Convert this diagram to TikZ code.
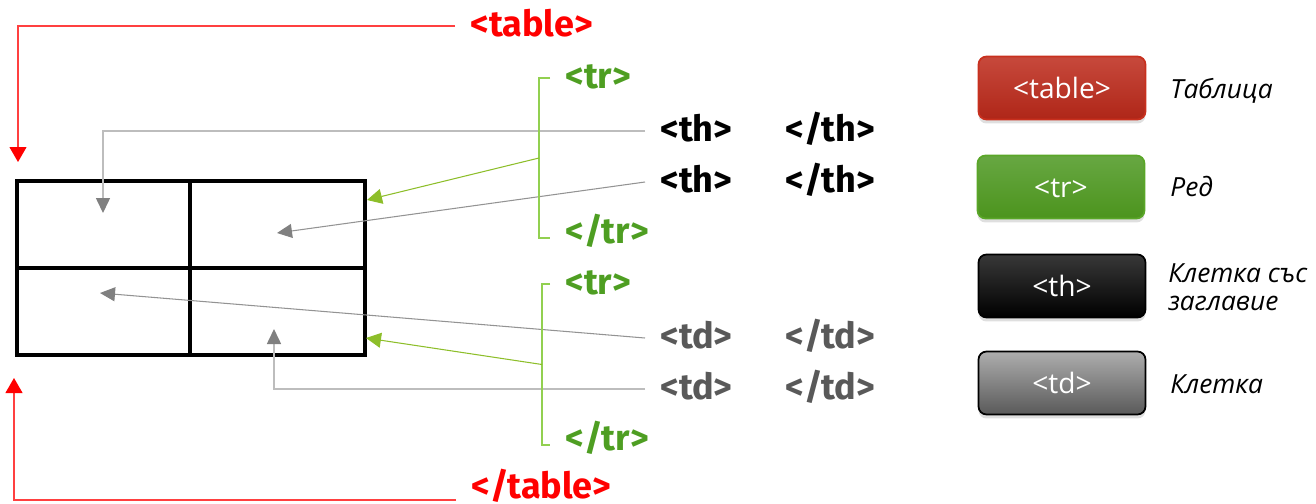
\documentclass[tikz,border=0pt]{standalone}
\usepackage{fontspec}
\newfontfamily\tagfont{Fira Sans}
\newfontfamily\boxfont{Open Sans}
\usetikzlibrary{arrows.meta}
\usetikzlibrary{shadows}

\definecolor{tagred}{HTML}{FF0000}
\definecolor{taggreen}{HTML}{4E9E22}
\definecolor{tdgray}{HTML}{595959}
\definecolor{bracketgreen}{HTML}{92D050}
\definecolor{arrowgreen}{HTML}{8DBE2A}
\definecolor{linegray}{HTML}{BDBDBD}
\definecolor{tipgray}{HTML}{808080}
\definecolor{redtop}{HTML}{C7493C}
\definecolor{redbot}{HTML}{AF2618}
\definecolor{redrim}{HTML}{C8301E}
\definecolor{greentop}{HTML}{67A742}
\definecolor{greenbot}{HTML}{4C941D}
\definecolor{greenrim}{HTML}{5AA628}

\begin{document}
\begin{tikzpicture}[x=0.02cm,y=-0.02cm,
    tag/.style={font=\tagfont\bfseries\fontsize{20.5}{24}\selectfont, anchor=base west,
      inner xsep=0.3cm, inner ysep=0pt, text height=0.4cm, text depth=0pt},
    keybox/.style={font=\boxfont\fontsize{16}{18}\selectfont, text=white, rounded corners=0.16cm,
      minimum width=3.34cm, minimum height=1.26cm, line width=1pt, text height=0.42cm, text depth=0pt,
      drop shadow={shadow xshift=0pt, shadow yshift=-0.08cm, opacity=0.25}},
    note/.style={font=\boxfont\itshape\fontsize{15}{16}\selectfont, inner sep=0pt},
    redline/.style={draw=tagred!75, line width=0.6pt, -{Triangle[length=0.3cm,width=0.34cm,color=tagred]}},
    grayline/.style={draw=linegray, line width=0.9pt, -{Triangle[length=0.3cm,width=0.28cm,color=tipgray]}},
    grayline2/.style={draw=tipgray!85, line width=0.6pt, -{Triangle[length=0.3cm,width=0.28cm,color=tipgray]}},
    bracket/.style={draw=bracketgreen, line width=0.7pt},
    greenline/.style={draw=arrowgreen, line width=0.6pt, -{Triangle[length=0.3cm,width=0.3cm,color=arrowgreen]}}]
  \useasboundingbox (0,0) rectangle (1316,504);

  %% the table
  \draw[line width=0.07cm] (17,181) rectangle (365,355);
  \draw[line width=0.07cm] (190,181) -- (190,355) (17,268) -- (365,268);
  \coordinate (tabletop) at (18,162);
  \coordinate (tablebot) at (14,378);
  \coordinate (cellA) at (103,213);
  \coordinate (cellB) at (277,233);
  \coordinate (cellC) at (100,293);
  \coordinate (cellD) at (274,329);
  \coordinate (rowAedge) at (367,200);
  \coordinate (rowBedge) at (366,338);

  %% the tags
  \node[tag, text=tagred] (topen) at (455,36) {<table>};
  \node[tag, text=tagred] (tclose) at (456,498) {</table>};
  \node[tag, text=taggreen] (tr1) at (550,88) {<tr>};
  \node[tag, text=taggreen] (tr1e) at (550,243) {</tr>};
  \node[tag, text=taggreen] (tr2) at (550,294) {<tr>};
  \node[tag, text=taggreen] (tr2e) at (550,450) {</tr>};
  \node[tag] (th1) at (645,141) {<th>};
  \node[tag] (th1e) at (770,141) {</th>};
  \node[tag] (th2) at (645,192) {<th>};
  \node[tag] (th2e) at (770,192) {</th>};
  \node[tag, text=tdgray] (td1) at (645,348) {<td>};
  \node[tag, text=tdgray] (td1e) at (770,348) {</td>};
  \node[tag, text=tdgray] (td2) at (645,399) {<td>};
  \node[tag, text=tdgray] (td2e) at (770,399) {</td>};

  %% connectors
  \draw[redline] (topen.west) -| (tabletop);
  \draw[redline] ([yshift=-0.04cm]tclose.base west) -| (tablebot);
  \draw[grayline] (th1.west) -| (cellA);
  \draw[grayline2] (th2.west) -- (cellB);
  \draw[grayline2] (td1.west) -- (cellC);
  \draw[grayline] (td2.west) -| (cellD);
  \draw[bracket] (tr1.west) -- ++(-11,0) |- coordinate[pos=0.25] (rowA) ([yshift=-0.1cm]tr1e.west);
  \draw[bracket] (tr2.west) -- ++(-8,0) |- coordinate[pos=0.25] (rowB) ([yshift=-0.1cm]tr2e.west);
  \draw[greenline] (rowA) -- (rowAedge);
  \draw[greenline] (rowB) -- (rowBedge);

  %% legend
  \node[keybox, draw=redrim, top color=redtop, bottom color=redbot] (keytable) at (1062,88) {<table>};
  \node[keybox, draw=greenrim, top color=greentop, bottom color=greenbot] (keytr) at (1061,187) {<tr>};
  \node[keybox, draw=black, top color=black!78, bottom color=black] (keyth) at (1062,286) {<th>};
  \node[keybox, draw=black, top color=black!32, bottom color=black!65] (keytd) at (1062,383) {<td>};
  \node[note, anchor=base west] (notetable) at (1170,98) {Таблица};
  \node[note, anchor=base west] (notetr) at (1170,196) {Ред};
  \node[note, anchor=north west, align=left] (noteth) at (1168,263) {Клетка със\\заглавие};
  \node[note, anchor=base west] (notetd) at (1170,393) {Клетка};
\end{tikzpicture}
\end{document}
